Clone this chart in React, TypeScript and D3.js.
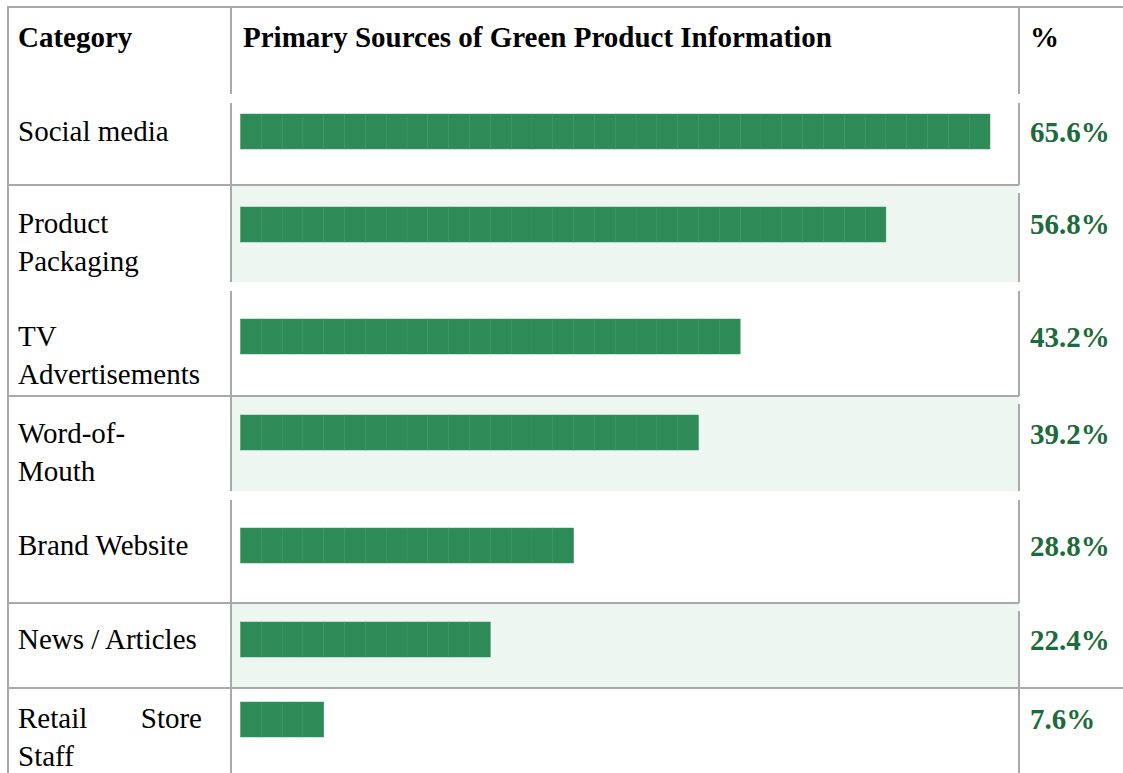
import React from "react";
import * as d3 from "d3";

const categories = [
  "Social media",
  "Product Packaging",
  "TV Advertisements",
  "Word-of-Mouth",
  "Brand Website",
  "News / Articles",
  "Retail Store Staff",
];
const categoryLines = [
  ["Social media"],
  ["Product", "Packaging"],
  ["TV", "Advertisements"],
  ["Word-of-", "Mouth"],
  ["Brand Website"],
  ["News / Articles"],
  ["Retail Store", "Staff"],
];
const values = [65.6, 56.8, 43.2, 39.2, 28.8, 22.4, 7.6];
const headers = ["Category", "Primary Sources of Green Product Information", "%"];

// layout (not data)
const W = 1123;
const H = 773;
const FONT = "'Liberation Serif', 'Times New Roman', serif";
const LINE = "#a9a9a9";
const BAR = "#2e8b57";
const PCT = "#1d6b3c";
const STRIPE = "#edf6f1";
const barTops = [114, 207, 319, 415, 528, 622, 702];
const labelBaselines = [141, 233, 346, 443, 555, 649, 728];
const rowBg = [null, [186, 282], null, [397, 491], null, [604, 688], null];
const SEGMENTS = 36;
const BAR_X0 = 240.5;
const BAR_X1 = 990;
const BAR_H = 35;
const LINE_H = 38;

export default function App() {
  const maxV = d3.max(values) as number;
  const segCount = d3.scaleLinear().domain([0, maxV]).range([0, SEGMENTS]);
  const segW = (BAR_X1 - BAR_X0) / SEGMENTS;

  const vLines: [number, number, number][] = [
    [8, 7, 773],
    [231, 7, 94], [231, 103, 282], [231, 291, 491], [231, 500, 773],
    [1019, 7, 94], [1019, 103, 185], [1019, 193, 282], [1019, 291, 396],
    [1019, 404, 491], [1019, 500, 603], [1019, 611, 773],
  ];
  const hLines: [number, number, number][] = [
    [7, 7, W], [185, 8, 1019], [396, 8, 1019], [603, 8, 1019], [688, 8, W],
  ];

  return (
    <svg
      width={W}
      height={H}
      style={{ position: "absolute", left: 0, top: 0, display: "block", background: "#fff" }}
      fontFamily={FONT}
    >
      {rowBg.map((r, i) =>
        r ? <rect key={"bg" + i} x={232} y={r[0]} width={1019 - 232} height={r[1] - r[0]} fill={STRIPE} /> : null
      )}
      {vLines.map(([x, y0, y1], i) => (
        <line key={"v" + i} x1={x} x2={x} y1={y0} y2={y1} stroke={LINE} strokeWidth={2} />
      ))}
      {hLines.map(([y, x0, x1], i) => (
        <line key={"h" + i} x1={x0} x2={x1} y1={y} y2={y} stroke={LINE} strokeWidth={2} />
      ))}
      <g fontWeight="bold" fontSize={29} fill="#000">
        <text x={18} y={47}>{headers[0]}</text>
        <text x={243} y={47}>{headers[1]}</text>
        <text x={1030} y={47}>{headers[2]}</text>
      </g>
      {categories.map((c, i) => {
        const n = Math.round(segCount(values[i]));
        const lines = categoryLines[i];
        return (
          <g key={c}>
            {lines.map((ln, j) => {
              const y = labelBaselines[i] + j * LINE_H;
              if (j === 0 && lines.length > 1 && ln.includes(" ") && !ln.endsWith("-")) {
                const words = ln.split(" ");
                return (
                  <g key={j}>
                    <text x={18} y={y} fontSize={29}>{words[0]}</text>
                    <text x={202} y={y} fontSize={29} textAnchor="end">{words.slice(1).join(" ")}</text>
                  </g>
                );
              }
              return (
                <text key={j} x={18} y={y} fontSize={29}>{ln}</text>
              );
            })}
            {d3.range(n).map((k) => (
              <rect
                key={k}
                x={BAR_X0 + k * segW}
                y={barTops[i]}
                width={segW}
                height={BAR_H}
                fill={BAR}
                stroke="#3a9363"
                strokeWidth={0.5}
              />
            ))}
            <text x={1030} y={labelBaselines[i] + 1} fontSize={29} fontWeight="bold" fill={PCT}>
              {values[i].toFixed(1)}%
            </text>
          </g>
        );
      })}
    </svg>
  );
}
